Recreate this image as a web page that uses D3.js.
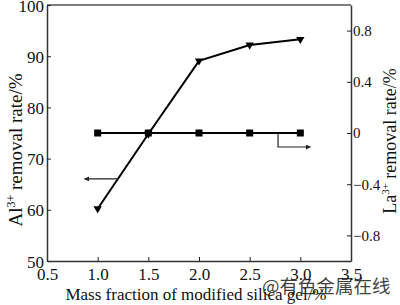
<!DOCTYPE html>
<html>
<head>
<meta charset="utf-8">
<script src="https://cdn.jsdelivr.net/npm/d3@7"></script>
<style>
  body { margin: 0; background: #fff; }
  svg text { font-family: "Liberation Serif", "Times New Roman", Times, "DejaVu Serif", serif; fill: #111; }
  .tick line { stroke: #222; }
  .domain { stroke: #333; }
</style>
</head>
<body>
<div id="chart"></div>
<script>
// data
var massFraction = [1.0, 1.5, 2.0, 2.5, 3.0];
var alRemoval = [60.2, 74.8, 89.1, 92.2, 93.3];   // left axis, triangles
var laRemoval = [0, 0, 0, 0, 0];                  // right axis, squares
var xTicks = [0.5, 1.0, 1.5, 2.0, 2.5, 3.0, 3.5];
var leftTicks = [50, 60, 70, 80, 90, 100];
var rightTicks = [-0.8, -0.4, 0, 0.4, 0.8];

var W = 400, H = 305;
var m = {left: 47, right: 49, top: 5, bottom: 44};
var serif = "'Liberation Serif', 'Times New Roman', serif";

var svg = d3.select("#chart").append("svg")
    .attr("width", W).attr("height", H);

var x = d3.scaleLinear().domain([0.5, 3.5]).range([m.left, W - m.right]);
var yL = d3.scaleLinear().domain([50, 100]).range([H - m.bottom, m.top]);
var yR = d3.scaleLinear().domain([-1, 1]).range([H - m.bottom, m.top]);

//frame (top line)
svg.append("line")
    .attr("x1", m.left).attr("x2", W - m.right)
    .attr("y1", m.top).attr("y2", m.top)
    .attr("stroke", "#555").attr("stroke-width", 1.5);

var fmtX = d3.format(".1f");
var fmtR = function(d){ return d === 0 ? "0" : d3.format(".1f")(d).replace("-", "\u2212"); };

var gx = svg.append("g")
    .attr("transform", "translate(0," + (H - m.bottom) + ")")
    .call(d3.axisBottom(x).tickValues(xTicks).tickFormat(fmtX).tickSizeInner(-4).tickSizeOuter(0).tickPadding(7));
var gl = svg.append("g")
    .attr("transform", "translate(" + m.left + ",0)")
    .call(d3.axisLeft(yL).tickValues(leftTicks).tickSizeInner(-4).tickSizeOuter(0).tickPadding(3));
var gr = svg.append("g")
    .attr("transform", "translate(" + (W - m.right) + ",0)")
    .call(d3.axisRight(yR).tickValues(rightTicks).tickFormat(fmtR).tickSizeInner(-4).tickSizeOuter(0).tickPadding(2));

[gx, gl, gr].forEach(function(g){
    g.attr("font-family", serif);
    g.selectAll(".domain").attr("stroke-width", 1.5);
    g.selectAll(".tick text").attr("font-size", 17).style("font-family", serif).attr("fill", "#111");
});
gr.selectAll(".tick text").attr("font-size", 15);
gl.selectAll(".tick text").attr("dy", "0.36em");

// Al3+ series
var lineL = d3.line().x(function(d, i){ return x(massFraction[i]); }).y(function(d){ return yL(d); });
svg.append("path").datum(alRemoval)
    .attr("d", lineL).attr("fill", "none").attr("stroke", "#000").attr("stroke-width", 2);

// La3+ series
var lineR = d3.line().x(function(d, i){ return x(massFraction[i]); }).y(function(d){ return yR(d); });
svg.append("path").datum(laRemoval)
    .attr("d", lineR).attr("fill", "none").attr("stroke", "#000").attr("stroke-width", 2);

var tri = d3.symbol().type(d3.symbolTriangle).size(30);
svg.selectAll(".tri").data(alRemoval).enter().append("path")
    .attr("class", "tri")
    .attr("d", tri)
    .attr("transform", function(d, i){ return "translate(" + x(massFraction[i]) + "," + yL(d) + ") rotate(180)"; })
    .attr("fill", "#000");

svg.selectAll(".sq").data(laRemoval).enter().append("rect")
    .attr("class", "sq")
    .attr("x", function(d, i){ return x(massFraction[i]) - 3.5; })
    .attr("y", function(d){ return yR(d) - 3.5; })
    .attr("width", 7).attr("height", 7)
    .attr("fill", "#000");

// arrows pointing to the axes
var defs = svg.append("defs");
defs.append("marker").attr("id", "ah")
    .attr("viewBox", "0 0 10 10").attr("refX", 9).attr("refY", 5)
    .attr("markerWidth", 8).attr("markerHeight", 5).attr("orient", "auto")
    .attr("markerUnits", "userSpaceOnUse")
    .append("path").attr("d", "M0,0 L10,5 L0,10 z").attr("fill", "#222");

var ax = 1.2; // point on the Al line where the arrow starts
var ayv = alRemoval[0] + (alRemoval[1] - alRemoval[0]) * (ax - 1.0) / 0.5;
svg.append("line")
    .attr("x1", x(ax)).attr("y1", yL(ayv))
    .attr("x2", x(0.87)).attr("y2", yL(ayv))
    .attr("stroke", "#222").attr("stroke-width", 1.2).attr("marker-end", "url(#ah)");

svg.append("path")
    .attr("d", "M" + x(2.78) + "," + yR(0) + " V" + (yR(0) + 14) + " H" + x(3.1))
    .attr("fill", "none").attr("stroke", "#222").attr("stroke-width", 1.2).attr("marker-end", "url(#ah)");

// axis titles
var lt = svg.append("text")
    .attr("transform", "translate(22,150) rotate(-90)")
    .attr("text-anchor", "middle").attr("font-size", 19).style("font-family", serif);
lt.append("tspan").text("Al");
lt.append("tspan").attr("font-size", 12).attr("dy", -7).text("3+");
lt.append("tspan").attr("dy", 7).text(" removal rate/%");

var rt = svg.append("text")
    .attr("transform", "translate(396,141) rotate(-90)")
    .attr("text-anchor", "middle").attr("font-size", 18).style("font-family", serif);
rt.append("tspan").text("La");
rt.append("tspan").attr("font-size", 11).attr("dy", -7).text("3+");
rt.append("tspan").attr("dy", 7).text(" removal rate/%");

svg.append("text")
    .attr("x", 196).attr("y", 300)
    .attr("text-anchor", "middle").attr("font-size", 17).style("font-family", serif)
    .text("Mass fraction of modified silica gel/%");

// watermark
svg.append("text")
    .attr("x", 262).attr("y", 293)
    .style("font-family", "'Noto Sans CJK SC', sans-serif").attr("font-size", 18.5)
    .attr("fill", "#ec8a9c").attr("opacity", 0.8)
    .text("@有色金属在线");
</script>
</body>
</html>
